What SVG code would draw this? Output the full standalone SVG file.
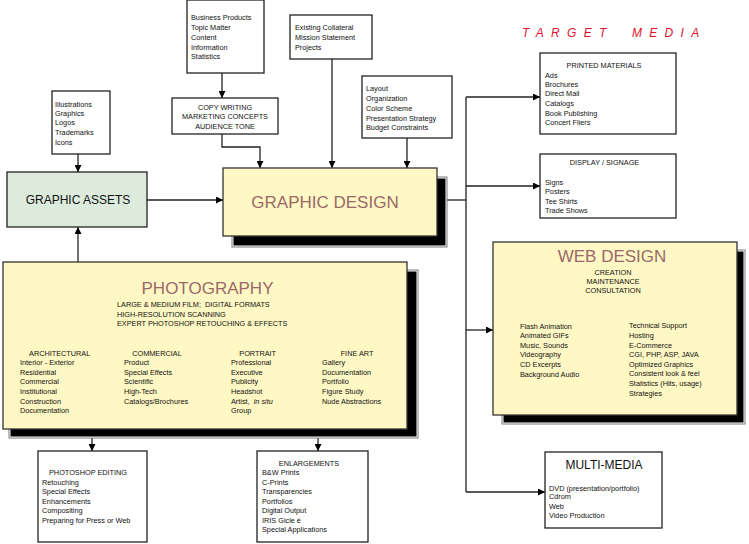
<svg xmlns="http://www.w3.org/2000/svg" width="749" height="544" viewBox="0 0 749 544">
<defs>
<style>
text{font-family:"Liberation Sans",Arial,sans-serif;font-size:7.3px;fill:#111}
.pre{white-space:pre}
.box{fill:#fff;stroke:#222;stroke-width:1.3}
.yel{fill:#fff8c4;stroke:#333;stroke-width:1.3}
.grn{fill:#dcebdc;stroke:#222;stroke-width:1.3}
.shout{fill:#fff;stroke:#7a7a7a;stroke-width:1}
.shin{fill:#000}
.big{font-size:17px;fill:#9a6868}
.mid{font-size:12px;fill:#111}
.c{text-anchor:middle}
.tm{font-size:12px;font-style:italic;fill:#e0122c;letter-spacing:7.3px}
.ln{fill:none;stroke:#222;stroke-width:1.3}
</style>
<marker id="ah" viewBox="0 0 10 10" refX="10" refY="5" markerWidth="7" markerHeight="7" markerUnits="userSpaceOnUse" orient="auto">
<path d="M0,0 L10,5 L0,10 z" fill="#000"/>
</marker>
</defs>
<rect width="749" height="544" fill="#fff"/>

<g id="connectors">
<path class="ln" d="M222,73 V98" marker-end="url(#ah)"/>
<path class="ln" d="M222,134 V147 H260 V168" marker-end="url(#ah)"/>
<path class="ln" d="M332,59 V168" marker-end="url(#ah)"/>
<path class="ln" d="M407,138 V168" marker-end="url(#ah)"/>
<path class="ln" d="M78,154 V172" marker-end="url(#ah)"/>
<path class="ln" d="M78,262 V227" marker-end="url(#ah)"/>
<path class="ln" d="M147,200 H223" marker-end="url(#ah)"/>
<path class="ln" d="M437,200 H466"/>
<path class="ln" d="M466,97 V492"/>
<path class="ln" d="M466,97 H540" marker-end="url(#ah)"/>
<path class="ln" d="M466,186 H540" marker-end="url(#ah)"/>
<path class="ln" d="M466,330 H493" marker-end="url(#ah)"/>
<path class="ln" d="M466,492 H545" marker-end="url(#ah)"/>
<path class="ln" d="M92,429 V451" marker-end="url(#ah)"/>
<path class="ln" d="M318,429 V451" marker-end="url(#ah)"/>
</g>

<g id="business">
<rect class="box" x="187" y="0" width="77" height="73"/>
<text x="191" y="20.4">Business Products</text>
<text x="191" y="30.4">Topic Matter</text>
<text x="191" y="40">Content</text>
<text x="191" y="49.7">Information</text>
<text x="191" y="59.4">Statistics</text>
</g>

<g id="copywriting">
<rect class="box" x="172" y="98" width="106" height="36"/>
<text class="c" x="225" y="110">COPY WRITING</text>
<text class="c" x="225" y="119.4">MARKETING CONCEPTS</text>
<text class="c" x="225" y="128.7">AUDIENCE TONE</text>
</g>

<g id="collateral">
<rect class="box" x="290" y="15" width="82" height="44"/>
<text x="295" y="30.4">Existing Collateral</text>
<text x="295" y="40.4">Mission Statement</text>
<text x="295" y="50.4">Projects</text>
</g>

<g id="layout">
<rect class="box" x="362" y="76" width="90" height="62"/>
<text x="366" y="91.4">Layout</text>
<text x="366" y="101.4">Organization</text>
<text x="366" y="111.4">Color Scheme</text>
<text x="366" y="120.7">Presentation Strategy</text>
<text x="366" y="130.4">Budget Constraints</text>
</g>

<g id="illustrations">
<rect class="box" x="52" y="91" width="58" height="63"/>
<text x="55" y="107">Illustrations</text>
<text x="55" y="116">Graphics</text>
<text x="55" y="125.4">Logos</text>
<text x="55" y="135">Trademarks</text>
<text x="55" y="144.7">Icons</text>
</g>

<g id="graphic-assets">
<rect class="grn" x="7" y="172" width="140" height="55"/>
<text class="mid c" x="78" y="203.6">GRAPHIC ASSETS</text>
</g>

<g id="graphic-design">
<rect class="shout" x="232" y="177" width="215" height="70"/>
<rect class="shin" x="233.5" y="178.5" width="212" height="67"/>
<rect class="yel" x="223" y="168" width="214" height="68"/>
<text class="big c" x="325" y="207.8">GRAPHIC DESIGN</text>
</g>

<g id="target-media">
<text class="tm" x="522" y="37.3">TARGET</text>
<text class="tm" x="632" y="37.3">MEDIA</text>
</g>

<g id="printed">
<rect class="box" x="540" y="53" width="136" height="81"/>
<text class="c" x="604" y="68">PRINTED MATERIALS</text>
<text x="545" y="77.7">Ads</text>
<text x="545" y="86.7">Brochures</text>
<text x="545" y="96.4">Direct Mail</text>
<text x="545" y="106">Catalogs</text>
<text x="545" y="116">Book Publishing</text>
<text x="545" y="125.4">Concert Fliers</text>
</g>

<g id="display">
<rect class="box" x="540" y="154" width="136" height="64"/>
<text class="c" x="604.5" y="165">DISPLAY / SIGNAGE</text>
<text x="545" y="184.7">Signs</text>
<text x="545" y="194.4">Posters</text>
<text x="545" y="203.7">Tee Shirts</text>
<text x="545" y="213">Trade Shows</text>
</g>

<g id="web-design">
<rect class="shout" x="502" y="250" width="243" height="174"/>
<rect class="shin" x="503.5" y="251.5" width="240" height="171"/>
<rect class="yel" x="493" y="242" width="244" height="173"/>
<text class="big c" x="612" y="261.8">WEB DESIGN</text>
<text class="c" x="613" y="275">CREATION</text>
<text class="c" x="613" y="284.4">MAINTENANCE</text>
<text class="c" x="613" y="293.4">CONSULTATION</text>
<text x="520" y="329.4">Flash Animation</text>
<text x="520" y="338.4">Animated GIFs</text>
<text x="520" y="347.7">Music, Sounds</text>
<text x="520" y="357">Videography</text>
<text x="520" y="366.7">CD Excerpts</text>
<text x="520" y="376.7">Background Audio</text>
<text x="629" y="327.7">Technical Support</text>
<text x="629" y="337.7">Hosting</text>
<text x="629" y="347.7">E-Commerce</text>
<text x="629" y="357">CGI, PHP, ASP, JAVA</text>
<text x="629" y="366.7">Optimized Graphics</text>
<text x="629" y="376">Consistent look &amp; feel</text>
<text x="629" y="385.7">Statistics (Hits, usage)</text>
<text x="629" y="395.7">Strategies</text>
</g>

<g id="photography">
<rect class="shout" x="9" y="270" width="409" height="168"/>
<rect class="shin" x="10.5" y="271.5" width="406" height="165"/>
<rect class="yel" x="3" y="262" width="404" height="167"/>
<text class="big c" x="207.5" y="294.4">PHOTOGRAPHY</text>
<text class="pre" x="117" y="307">LARGE &amp; MEDIUM FILM;  DIGITAL FORMATS</text>
<text x="117" y="316.7">HIGH-RESOLUTION SCANNING</text>
<text x="117" y="326.4">EXPERT PHOTOSHOP RETOUCHING &amp; EFFECTS</text>
<text class="c" x="59.7" y="356">ARCHITECTURAL</text>
<text class="c" x="157" y="356">COMMERCIAL</text>
<text class="c" x="257.7" y="356">PORTRAIT</text>
<text class="c" x="357" y="356">FINE ART</text>
<text x="20" y="365.4">Interior - Exterior</text>
<text x="20" y="375">Residential</text>
<text x="20" y="384.4">Commercial</text>
<text x="20" y="394">Institutional</text>
<text x="20" y="403.7">Construction</text>
<text x="20" y="413">Documentation</text>
<text x="124" y="365.4">Product</text>
<text x="124" y="375">Special Effects</text>
<text x="124" y="384.4">Scientific</text>
<text x="124" y="394">High-Tech</text>
<text x="124" y="403.7">Catalogs/Brochures</text>
<text x="231" y="365.4">Professional</text>
<text x="231" y="375">Executive</text>
<text x="231" y="384.4">Publicity</text>
<text x="231" y="394">Headshot</text>
<text class="pre" x="231" y="403.7">Artist,  <tspan font-style="italic">in situ</tspan></text>
<text x="231" y="413">Group</text>
<text x="322" y="365.4">Gallery</text>
<text x="322" y="375">Documentation</text>
<text x="322" y="384.4">Portfolio</text>
<text x="322" y="394">Figure Study</text>
<text x="322" y="403.7">Nude Abstractions</text>
</g>

<g id="photoshop-editing">
<rect class="box" x="38" y="451" width="109" height="91"/>
<text class="c" x="88" y="475">PHOTOSHOP EDITING</text>
<text x="42" y="485">Retouching</text>
<text x="42" y="494.4">Special Effects</text>
<text x="42" y="503.7">Enhancements</text>
<text x="42" y="513.4">Compositing</text>
<text x="42" y="522.7">Preparing for Press or Web</text>
</g>

<g id="enlargements">
<rect class="box" x="257" y="451" width="111" height="91"/>
<text class="c" x="309" y="466">ENLARGEMENTS</text>
<text x="262" y="475.4">B&amp;W Prints</text>
<text x="262" y="485">C-Prints</text>
<text x="262" y="494.4">Transparencies</text>
<text x="262" y="503.7">Portfolios</text>
<text x="262" y="513.4">Digital Output</text>
<text x="262" y="522.7">IRIS Gicle é</text>
<text x="262" y="532">Special Applications</text>
</g>

<g id="multi-media">
<rect class="box" x="545" y="452" width="117" height="76"/>
<text class="mid c" x="604" y="469.3">MULTI-MEDIA</text>
<text x="549" y="491">DVD (presentation/portfolio)</text>
<text x="549" y="499.4">Cdrom</text>
<text x="549" y="508.7">Web</text>
<text x="549" y="518.4">Video Production</text>
</g>
</svg>
